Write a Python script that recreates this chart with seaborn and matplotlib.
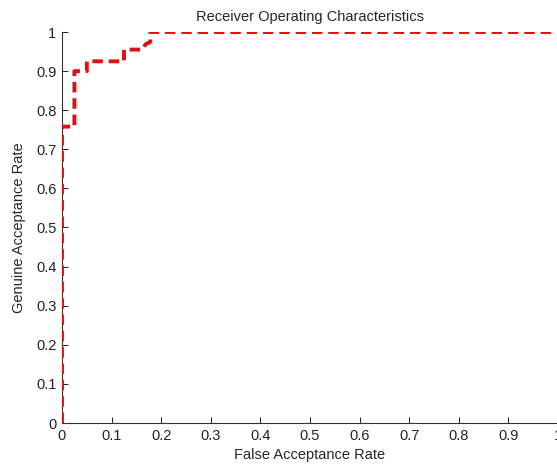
import matplotlib
matplotlib.use("Agg")
import matplotlib.pyplot as plt
import seaborn as sns
import pandas as pd

# ROC curve points (False Acceptance Rate, Genuine Acceptance Rate)
far = [0.0, 0.0, 0.025, 0.025, 0.05, 0.05, 0.125, 0.125, 0.163, 0.168, 0.178, 0.178, 1.0]
gar = [0.0, 0.758, 0.758, 0.9, 0.9, 0.925, 0.925, 0.955, 0.955, 0.968, 0.975, 1.0, 1.0]
ticks = [0, 0.1, 0.2, 0.3, 0.4, 0.5, 0.6, 0.7, 0.8, 0.9, 1]
tick_labels = ["0", "0.1", "0.2", "0.3", "0.4", "0.5", "0.6", "0.7", "0.8", "0.9", "1"]

sns.set_style("ticks")
plt.rcParams['font.family'] = ['Liberation Sans', 'DejaVu Sans']

df = pd.DataFrame({"far": far, "gar": gar})

fig = plt.figure(figsize=(5.57, 4.69), dpi=100)
ax = fig.add_axes([62/557, 1 - 423/469, (558-62)/557, (423-32)/469])

sns.lineplot(data=df, x="far", y="gar", ax=ax, sort=False, estimator=None,
             color="#dd1111", linewidth=2.8, linestyle=(0, (2.7, 1.5)), zorder=3)

ax.set_xlim(0, 1)
ax.set_ylim(0, 1)
ax.set_xticks(ticks)
ax.set_xticklabels(tick_labels)
ax.set_yticks(ticks)
ax.set_yticklabels(tick_labels)
ax.tick_params(direction="in", length=4, width=0.7, labelsize=10.5, colors="#222222")
ax.tick_params(axis="x", pad=4)
ax.tick_params(axis="y", pad=4)
for s in ["top", "right"]:
    ax.spines[s].set_visible(False)
for s in ["left", "bottom"]:
    ax.spines[s].set_linewidth(0.8)
    ax.spines[s].set_color("#333333")

ax.set_xlabel("False Acceptance Rate", fontsize=10.5, labelpad=4)
ax.set_ylabel("Genuine Acceptance Rate", fontsize=10.5, labelpad=7)
ax.set_title("Receiver Operating Characteristics", fontsize=10.5, pad=8)

fig.savefig("out.png", dpi=100)
